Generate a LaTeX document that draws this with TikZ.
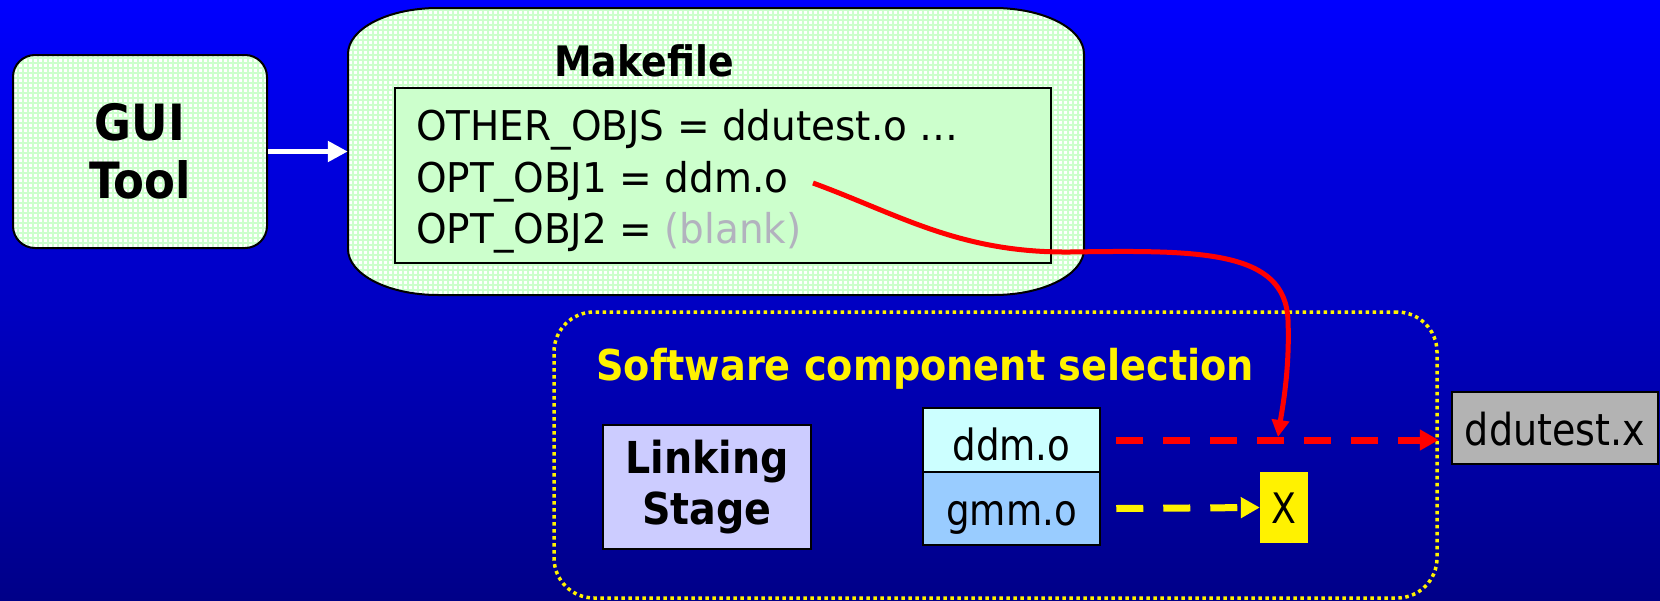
\documentclass[tikz,border=0pt]{standalone}
\usepackage{fontspec}
\setmainfont{DejaVu Sans}[FakeStretch=0.95]
\newfontfamily\heavy{DejaVu Sans}[FakeStretch=0.9]
\newfontfamily\labelfont{DejaVu Sans}[FakeStretch=0.865]
\usetikzlibrary{arrows.meta}

\definecolor{bgtop}{RGB}{0,0,255}
\definecolor{bgbot}{RGB}{0,0,136}
\definecolor{mint}{RGB}{204,255,204}
\definecolor{lavender}{RGB}{204,204,255}
\definecolor{palecyan}{RGB}{204,255,255}
\definecolor{skyblue}{RGB}{153,204,255}
\definecolor{blankgray}{RGB}{178,178,190}
\definecolor{boxgray}{RGB}{179,179,179}

\tikzset{
  gridfill/.style={fill=white, path picture={
      \foreach \i in {0,5,...,760}
        \draw[mint, line width=1.6pt]
          ([xshift=\i pt]path picture bounding box.south west) --
          ([xshift=\i pt]path picture bounding box.north west);
      \foreach \i in {0,5,...,300}
        \draw[mint, line width=1.6pt]
          ([yshift=\i pt]path picture bounding box.south west) --
          ([yshift=\i pt]path picture bounding box.south east);
  }},
  codeline/.style={anchor=base west, inner sep=0pt, font=\fontsize{41}{48}\selectfont},
  objbox/.style={draw=black, line width=2.5pt, minimum width=177pt, inner sep=0pt,
    text depth=0pt, font=\labelfont\fontsize{43}{50}\selectfont},
  whitearrow/.style={white, line width=5pt, -{Triangle[length=20pt,width=20pt]}},
  reddash/.style={red, line width=7pt, dash pattern=on 27pt off 20pt,
    -{Triangle[length=19pt,width=20pt]}},
  yellowdash/.style={yellow, line width=7pt, dash pattern=on 27pt off 20pt,
    -{Triangle[length=19pt,width=20pt]}},
  redcurve/.style={red, line width=5pt, -{Triangle[length=17pt,width=17pt]}},
}

\begin{document}
\begin{tikzpicture}[x=1pt, y=-1pt]
  % backdrop
  \shade[top color=bgtop, bottom color=bgbot] (0,0) rectangle (1660,600);
  \useasboundingbox (0,0) rectangle (1660,600);

  % GUI tool
  \node[gridfill, draw=black, line width=2pt, rounded corners=22pt,
        minimum width=254pt, minimum height=193pt, align=center,
        font=\heavy\bfseries\fontsize{50}{58}\selectfont] (gui) at (140,151.5) {GUI\\Tool};

  % Makefile outline
  \node[inner sep=0pt, minimum width=736pt, minimum height=287pt] (mk) at (716,151.5) {};
  \path[gridfill, draw=black, line width=2pt]
    (348,54) -- (348,249)
    .. controls (348,274.4) and (388.3,295) .. (438,295) -- (994,295)
    .. controls (1043.7,295) and (1084,274.4) .. (1084,249) -- (1084,54)
    .. controls (1084,28.6) and (1043.7,8) .. (994,8) -- (438,8)
    .. controls (388.3,8) and (348,28.6) .. cycle;
  \node[anchor=base, inner sep=0pt, font=\heavy\bfseries\fontsize{42}{48}\selectfont]
    (mktitle) at (644,76) {Makefile};
  \node[draw=black, line width=2pt, fill=mint, minimum width=656pt, minimum height=175pt]
    (mklist) at (723,175.5) {};
  \node[codeline] (l1) at (416,140) {OTHER\_OBJS = ddutest.o …};
  \node[codeline] (l2) at (416,192) {OPT\_OBJ1 = ddm.o};
  \node[codeline] (l3) at (416,243) {OPT\_OBJ2 = {\color{blankgray}(blank)}};
  \coordinate (o1) at (813,183);

  \draw[whitearrow] (gui.east) -- (mk.west);

  % component selection stage
  \node[draw=yellow, line width=3.5pt, dash pattern=on 3.5pt off 3.5pt, rounded corners=40pt,
        minimum width=883pt, minimum height=286pt] (sel) at (995.5,455) {};
  \node[anchor=base west, inner sep=0pt, text=yellow,
        font=\heavy\bfseries\fontsize{42.5}{50}\selectfont] (seltitle) at (596,380)
        {Software component selection};
  \node[draw=black, line width=2.5pt, fill=lavender, minimum width=208pt, minimum height=124pt,
        align=center, font=\heavy\bfseries\fontsize{44}{51}\selectfont] (link) at (707,487)
        {Linking\\Stage};
  \node[objbox, fill=palecyan, minimum height=64pt, text height=40pt] (ddm) at (1011.5,440) {ddm.o};
  \node[objbox, fill=skyblue, minimum height=73pt, text height=33pt] (gmm) at (1011.5,508.5) {gmm.o};
  \node[fill=yellow, inner sep=0pt, minimum width=48pt, minimum height=71pt,
        text height=31pt, text depth=0pt, font=\labelfont\fontsize{42}{48}\selectfont] (xbox) at (1284,507.5) {X};
  \node[draw=black, line width=2pt, fill=boxgray, minimum width=206pt, minimum height=72pt,
        inner sep=0pt, text height=34pt, text depth=0pt,
        font=\labelfont\fontsize{44}{50}\selectfont] (exe) at (1555,428) {ddutest.x};

  \draw[reddash] ([xshift=15pt]ddm.east) -- (sel.east |- ddm.east);
  \draw[yellowdash] ([xshift=15pt]gmm.east) -- (xbox.west);

  % selected object routed into the link
  \coordinate (merge) at (1278,437);
  \draw[redcurve] (o1) .. controls (900,215) and (960,253) .. (1070,252)
    .. controls (1200,250) and (1285,250) .. (1288,320)
    .. controls (1290,370) and (1282,410) .. (merge);
\end{tikzpicture}
\end{document}
